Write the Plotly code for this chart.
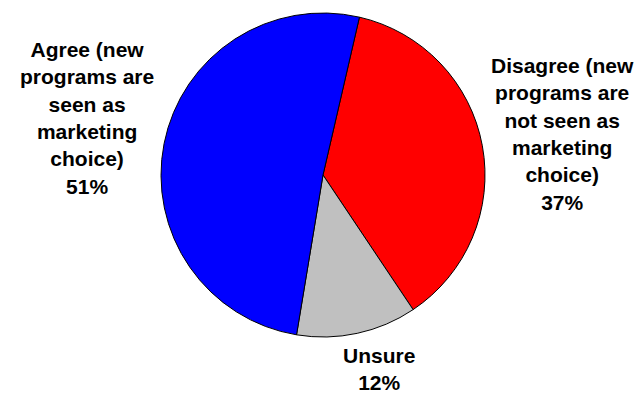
import plotly.graph_objects as go

W, H = 642, 397

labels = ["Disagree (new programs are not seen as marketing choice)",
          "Unsure",
          "Agree (new programs are seen as marketing choice)"]
label_lines = [["Disagree (new", "programs are", "not seen as", "marketing", "choice)"],
               ["Unsure"],
               ["Agree (new", "programs are", "seen as", "marketing", "choice)"]]
values = [37, 12, 51]
colors = ["#FF0000", "#C0C0C0", "#0000FF"]

cx, cy, r = 323, 175, 162

fig = go.Figure(go.Pie(
    labels=labels, values=values, sort=False, direction="clockwise",
    rotation=13, textinfo="none", hoverinfo="label+percent",
    marker=dict(colors=colors, line=dict(color="black", width=1)),
    domain=dict(x=[(cx - r) / W, (cx + r) / W], y=[1 - (cy + r) / H, 1 - (cy - r) / H]),
    showlegend=False,
))

label_pos = [(562, 134), (379, 369), (87, 118)]
for lines, v, (px, py) in zip(label_lines, values, label_pos):
    fig.add_annotation(
        x=px / W, y=1 - py / H, xref="paper", yref="paper",
        text="<br>".join(f"<b>{t}</b>" for t in lines + [f"{v}%"]), showarrow=False,
        xanchor="center", yanchor="middle", align="center",
        font=dict(family="Liberation Sans, Arial, sans-serif", size=21, color="black"),
    )

fig.update_layout(
    width=W, height=H, margin=dict(l=0, r=0, t=0, b=0),
    paper_bgcolor="white", plot_bgcolor="white",
)
fig.write_html("out.html")
